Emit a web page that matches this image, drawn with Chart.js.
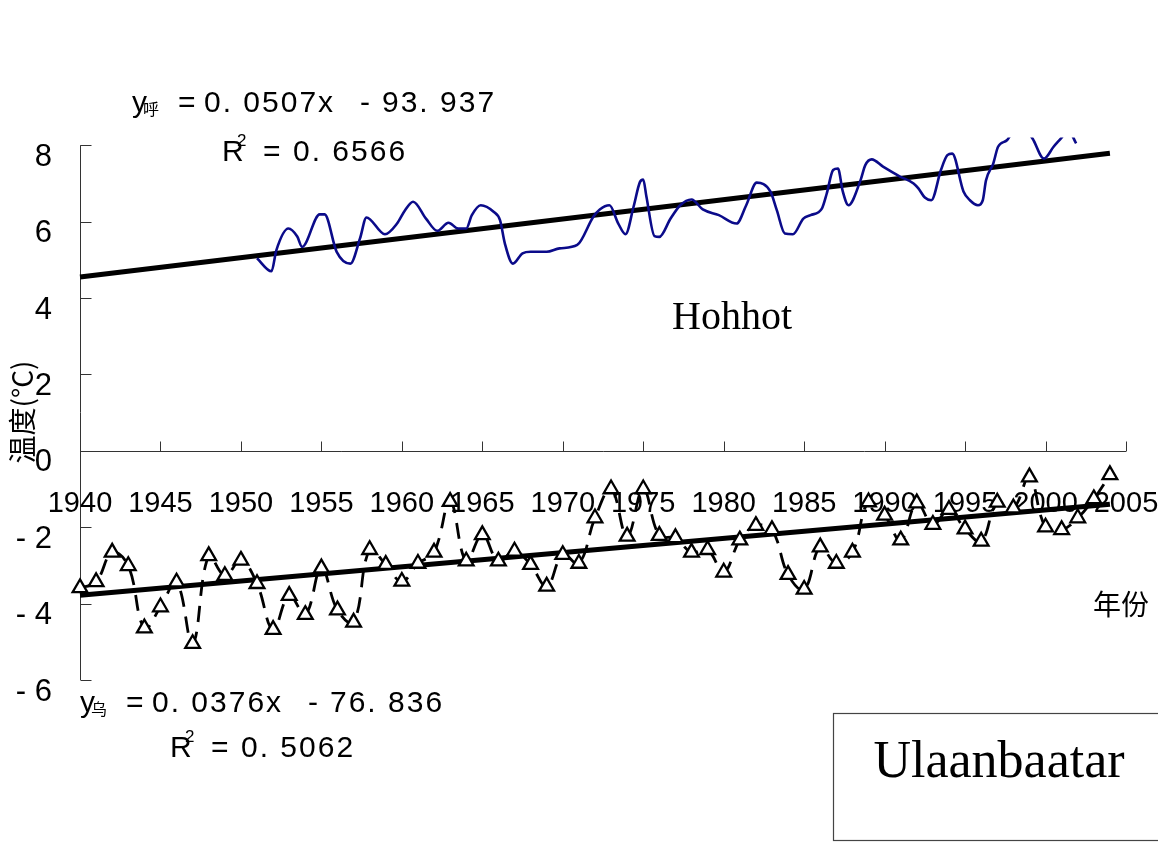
<!DOCTYPE html>
<html>
<head>
<meta charset="utf-8">
<script src="https://cdn.jsdelivr.net/npm/chart.js@4.4.1/dist/chart.umd.min.js"></script>
<style>
  html, body { margin: 0; padding: 0; background: #fff; }
  #grafico { display: block; }
</style>
</head>
<body>
<canvas id="grafico" width="1158" height="847"></canvas>
<script>
// Hohhot: smoothed curve, values read at its turning points
const anosHohhot = [1951.0, 1951.9, 1952.2, 1952.95, 1953.5, 1953.8, 1954.9, 1955.2, 1955.95, 1956.8,
  1957.4, 1957.8, 1958.95, 1959.7, 1960.2, 1960.7, 1961.5, 1962.2, 1962.9, 1963.5,
  1964.0, 1964.35, 1964.9, 1965.7, 1966.1, 1966.4, 1966.9, 1967.5, 1968.0, 1969.0,
  1969.8, 1970.9, 1971.9, 1972.3, 1972.9, 1973.45, 1973.9, 1974.4, 1974.8, 1975.0,
  1975.2, 1975.7, 1976.0, 1976.7, 1977.3, 1978.0, 1978.7, 1979.7, 1980.8, 1981.4,
  1982.05, 1982.9, 1983.3, 1983.8, 1984.3, 1984.95, 1985.4, 1986.1, 1986.4, 1986.8,
  1987.1, 1987.4, 1987.75, 1988.5, 1988.8, 1989.2, 1989.9, 1990.96, 1991.8, 1992.1,
  1992.5, 1992.9, 1993.5, 1993.9, 1994.2, 1994.9, 1995.3, 1995.8, 1996.1, 1996.3,
  1996.75, 1997.05, 1997.6, 1998.4, 1999.2, 1999.9, 2000.5, 2001.0, 2001.4, 2001.9];
const tempHohhot = [5.04, 4.70, 5.25, 5.82, 5.61, 5.34, 6.19, 6.19, 5.21, 4.90,
  5.56, 6.11, 5.67, 5.95, 6.30, 6.52, 6.08, 5.76, 5.97, 5.82,
  5.82, 6.17, 6.43, 6.26, 6.04, 5.43, 4.90, 5.17, 5.21, 5.21,
  5.30, 5.39, 6.13, 6.32, 6.43, 5.95, 5.67, 6.39, 7.04, 7.10,
  6.65, 5.62, 5.60, 6.08, 6.43, 6.58, 6.32, 6.17, 5.95, 6.43,
  7.02, 6.79, 6.30, 5.69, 5.67, 6.08, 6.17, 6.34, 6.73, 7.35,
  7.39, 6.79, 6.43, 7.08, 7.48, 7.63, 7.44, 7.18, 7.00, 6.87,
  6.63, 6.56, 7.35, 7.74, 7.78, 6.79, 6.56, 6.43, 6.56, 7.08,
  7.52, 7.96, 8.13, 8.60, 8.17, 7.65, 7.96, 8.20, 8.40, 8.05];

// Ulaanbaatar: one value per year 1940-2004
const anosUlaanbaatar = [];
for (let a = 1940; a <= 2004; a++) anosUlaanbaatar.push(a);
const tempUlaanbaatar = [-3.59, -3.43, -2.66, -3.01, -4.64, -4.09, -3.44, -5.05, -2.75, -3.27,
  -2.87, -3.48, -4.68, -3.79, -4.29, -3.07, -4.17, -4.49, -2.59, -2.98,
  -3.42, -2.95, -2.66, -1.33, -2.89, -2.20, -2.89, -2.63, -2.98, -3.55,
  -2.72, -2.95, -1.76, -1.00, -2.24, -1.00, -2.22, -2.28, -2.66, -2.59,
  -3.18, -2.34, -1.96, -2.07, -3.24, -3.63, -2.52, -2.95, -2.66, -1.34,
  -1.69, -2.34, -1.37, -1.93, -1.54, -2.05, -2.37, -1.35, -1.50, -0.69,
  -2.00, -2.07, -1.76, -1.26, -0.63];

// trend lines, end points
const anosTendencia = [1940, 2004];
const tendHohhot = [4.55, 7.79];
const tendUlaanbaatar = [-3.78, -1.40];

const ticksX = [1940, 1945, 1950, 1955, 1960, 1965, 1970, 1975, 1980, 1985, 1990, 1995, 2000, 2005];
const ticksY = [8, 6, 4, 2, 0, -2, -4, -6];

function pares(xs, ys) {
  return xs.map((v, i) => ({ x: v, y: ys[i] }));
}

const SANS = '"Liberation Sans", Arial, sans-serif';
const CJK = '"Noto Sans CJK SC", sans-serif';

function texto(ctx, str, px, py, font, align) {
  ctx.font = font;
  ctx.textAlign = align || 'left';
  ctx.textBaseline = 'middle';
  ctx.fillText(str, px, py);
}

function equacao(ctx, ox, oy, oy2, sub, coef, inter, r2) {
  const f = '30px ' + SANS;
  ctx.letterSpacing = '2px';
  texto(ctx, 'y', ox, oy, f);
  texto(ctx, sub, ox + 11, oy + 5, '16px ' + CJK);
  texto(ctx, '=', ox + 46, oy, f);
  texto(ctx, coef, ox + 72, oy, f);
  texto(ctx, '-', ox + 228, oy, f);
  texto(ctx, inter, ox + 250, oy, f);
  texto(ctx, 'R', ox + 90, oy2, f);
  texto(ctx, '2', ox + 105, oy2 - 12, '17px ' + SANS);
  texto(ctx, '=', ox + 131, oy2, f);
  texto(ctx, r2, ox + 161, oy2, f);
  ctx.letterSpacing = '0px';
}

const eixos = {
  id: 'eixos',
  beforeDatasetsDraw(chart) {
    const { ctx, scales: { x, y } } = chart;
    ctx.save();
    ctx.strokeStyle = '#333';
    ctx.fillStyle = '#000';
    ctx.lineWidth = 1;
    const x0 = Math.round(x.getPixelForValue(1940)) + 0.5;
    const y0 = Math.round(y.getPixelForValue(0)) + 0.5;
    ctx.beginPath();
    ctx.moveTo(x0, y.getPixelForValue(8));
    ctx.lineTo(x0, y.getPixelForValue(-6));
    ctx.moveTo(x0, y0);
    ctx.lineTo(x.getPixelForValue(2005), y0);
    ticksY.forEach(v => {
      const py = Math.round(y.getPixelForValue(v)) + 0.5;
      ctx.moveTo(x0, py);
      ctx.lineTo(x0 + 11, py);
    });
    ticksX.forEach(a => {
      const px = Math.round(x.getPixelForValue(a)) + 0.5;
      ctx.moveTo(px, y0);
      ctx.lineTo(px, y0 - 10);
    });
    ctx.stroke();

    ticksY.forEach(v => {
      const rot = v < 0 ? '- ' + Math.abs(v) : String(v);
      texto(ctx, rot, 52, y.getPixelForValue(v) + 12, '31px ' + SANS, 'right');
    });
    ticksX.forEach(a => {
      texto(ctx, String(a), x.getPixelForValue(a), y0 + 52, '29px ' + SANS, 'center');
    });

    // axis titles
    ctx.save();
    ctx.translate(22, 412);
    ctx.rotate(-Math.PI / 2);
    texto(ctx, '温度(°C)', 0, 0, '28px ' + CJK, 'center');
    ctx.restore();
    texto(ctx, '年份', 1093, 604, '28px ' + CJK, 'left');
    ctx.restore();
  },
  afterDraw(chart) {
    const { ctx } = chart;
    ctx.save();
    ctx.fillStyle = '#000';
    equacao(ctx, 132, 104, 153, '呼', '0. 0507x', '93. 937', '0. 6566');
    equacao(ctx, 80, 704, 749, '乌', '0. 0376x', '76. 836', '0. 5062');

    texto(ctx, 'Hohhot', 672, 318, '40px "Liberation Serif", "Times New Roman", serif');

    ctx.strokeStyle = '#444';
    ctx.lineWidth = 1.2;
    ctx.strokeRect(833.5, 713.5, 340, 127);
    texto(ctx, 'Ulaanbaatar', 999, 763, '52px "Liberation Serif", "Times New Roman", serif', 'center');
    ctx.restore();
  }
};

const graficoTemp = new Chart(document.getElementById('grafico'), {
  type: 'line',
  data: {
    datasets: [
      {
        label: 'Hohhot',
        data: pares(anosHohhot, tempHohhot),
        borderColor: '#0b0b8a',
        borderWidth: 2.6,
        pointRadius: 0,
        cubicInterpolationMode: 'monotone'
      },
      {
        label: 'Hohhot tendência',
        data: pares(anosTendencia, tendHohhot),
        borderColor: '#000',
        borderWidth: 5,
        pointRadius: 0,
        clip: false
      },
      {
        label: 'Ulaanbaatar',
        data: pares(anosUlaanbaatar, tempUlaanbaatar),
        borderColor: '#000',
        borderWidth: 2.8,
        borderDash: [16, 10],
        tension: 0.4,
        pointStyle: 'triangle',
        pointRadius: 8.5,
        pointBorderWidth: 2.3,
        pointBorderColor: '#000',
        pointBackgroundColor: '#fff',
        clip: false
      },
      {
        label: 'Ulaanbaatar tendência',
        data: pares(anosTendencia, tendUlaanbaatar),
        borderColor: '#000',
        borderWidth: 5,
        pointRadius: 0,
        clip: false
      }
    ]
  },
  options: {
    responsive: false,
    animation: false,
    layout: { padding: { left: 80, right: 32, top: 137.6, bottom: 167 } },
    scales: {
      x: { type: 'linear', min: 1940, max: 2005, display: false },
      y: { type: 'linear', min: -6, max: 8.2, display: false }
    },
    plugins: {
      legend: { display: false },
      tooltip: { enabled: false }
    }
  },
  plugins: [eixos]
});
</script>
</body>
</html>
